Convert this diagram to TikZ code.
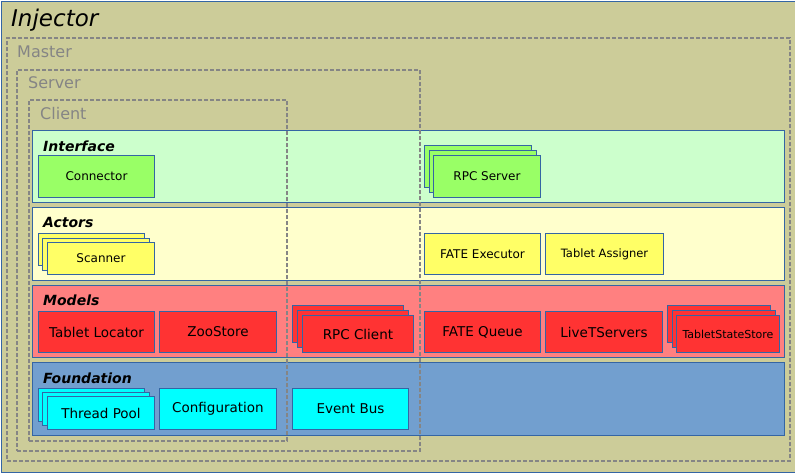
\documentclass[tikz,border=0pt]{standalone}
\usepackage{fontspec}
\setmainfont{DejaVu Sans}
\definecolor{bgolive}{HTML}{CCCC99}
\definecolor{bord}{HTML}{3465A4}
\definecolor{ifacebg}{HTML}{CCFFCC}
\definecolor{actbg}{HTML}{FFFFCC}
\definecolor{modbg}{HTML}{FF8080}
\definecolor{fndbg}{HTML}{729FCF}
\definecolor{cgreen}{HTML}{99FF66}
\definecolor{cyellow}{HTML}{FFFF66}
\definecolor{cred}{HTML}{FF3333}
\definecolor{ccyan}{HTML}{00FFFF}
\definecolor{dgray}{HTML}{858585}
\begin{document}
\begin{tikzpicture}[x=1pt,y=-1pt,
  layerbox/.style={draw=bord, line width=1pt, anchor=north west, inner sep=0pt, minimum width=752, minimum height=72},
  comp/.style={draw=bord, line width=1pt, anchor=north west, inner sep=0pt, text=black},
  dbox/.style={draw=dgray, line width=2.3pt, dash pattern=on 4pt off 2pt, anchor=north west, inner sep=0pt},
  dlabel/.style={anchor=west, text=dgray, inner sep=0pt, font=\fontsize{16}{18}\selectfont},
  ltitle/.style={anchor=west, inner sep=0pt, font=\fontsize{14}{16}\selectfont\bfseries\itshape},
  fs12/.style={font=\fontsize{12}{14}\selectfont},
  fs13/.style={font=\fontsize{13.5}{15}\selectfont},
]
\useasboundingbox (0,0) rectangle (795,472);
% Injector
\node[draw=bord, line width=1pt, fill=bgolive, anchor=north west, inner sep=0pt, minimum width=794, minimum height=471] (injector) at (0.5,0.5) {};
\node[anchor=west, inner sep=0pt, font=\fontsize{23}{26}\selectfont\itshape] (injlbl) at (11,20) {Injector};

% Layers
\node[layerbox, fill=ifacebg] (iface) at (32,130) {};
\node[layerbox, fill=actbg, minimum height=73] (actors) at (32,207) {};
\node[layerbox, fill=modbg] (models) at (32,285) {};
\node[layerbox, fill=fndbg, minimum height=73] (found) at (32,362) {};
\node[ltitle] (ifacelbl) at (43,146) {Interface};
\node[ltitle] (actlbl) at (43,222) {Actors};
\node[ltitle] (modlbl) at (43,300) {Models};
\node[ltitle] (fndlbl) at (43,378) {Foundation};

% Interface
\node[comp, fill=cgreen, fs12, minimum width=116, minimum height=42] (conn) at (38,155) {Connector};
\node[comp, fill=cgreen, minimum width=107, minimum height=42] (rpcs3) at (424,145) {};
\node[comp, fill=cgreen, minimum width=107, minimum height=42] (rpcs2) at (429,150) {};
\node[comp, fill=cgreen, fs12, minimum width=107, minimum height=42] (rpcs) at (433,155) {RPC Server};

% Actors
\node[comp, fill=cyellow, minimum width=106, minimum height=32] (scan3) at (38,233) {};
\node[comp, fill=cyellow, minimum width=107, minimum height=32] (scan2) at (42,237.5) {};
\node[comp, fill=cyellow, fs12, minimum width=107, minimum height=32] (scan) at (47,242) {Scanner};
\node[comp, fill=cyellow, fs12, minimum width=116, minimum height=41] (fexec) at (424,233) {FATE Executor};
\node[comp, fill=cyellow, font=\fontsize{11.5}{14}\selectfont, minimum width=118, minimum height=41] (tassign) at (545,233) {Tablet Assigner};

% Models
\node[comp, fill=cred, fs13, minimum width=116, minimum height=41] (tloc) at (38,311) {Tablet Locator};
\node[comp, fill=cred, fs13, minimum width=117, minimum height=41] (zoo) at (159,311) {ZooStore};
\node[comp, fill=cred, minimum width=111, minimum height=37] (rpcc3) at (292,305) {};
\node[comp, fill=cred, minimum width=111, minimum height=37] (rpcc2) at (297,310) {};
\node[comp, fill=cred, fs13, minimum width=111, minimum height=37] (rpcc) at (302,315) {RPC Client};
\node[comp, fill=cred, fs13, minimum width=116, minimum height=41] (fqueue) at (424,311) {FATE Queue};
\node[comp, fill=cred, fs13, minimum width=117, minimum height=41] (livets) at (545,311) {LiveTServers};
\node[comp, fill=cred, minimum width=103, minimum height=37] (tss3) at (667,305) {};
\node[comp, fill=cred, minimum width=103, minimum height=37] (tss2) at (672,310) {};
\node[comp, fill=cred, font=\fontsize{11}{13}\selectfont, minimum width=103, minimum height=37] (tss) at (676,315) {TabletStateStore};

% Foundation
\node[comp, fill=ccyan, minimum width=106, minimum height=33] (tp3) at (38,388) {};
\node[comp, fill=ccyan, minimum width=107, minimum height=33] (tp2) at (42,392) {};
\node[comp, fill=ccyan, fs13, minimum width=107, minimum height=33] (tp) at (47,396) {Thread Pool};
\node[comp, fill=ccyan, fs13, minimum width=117, minimum height=41] (config) at (159,388) {Configuration};
\node[comp, fill=ccyan, fs13, minimum width=116, minimum height=41] (ebus) at (292,388) {Event Bus};

% Dashed deployment boxes
\node[dbox, minimum width=783, minimum height=423] (master) at (6,37) {};
\node[dbox, minimum width=403, minimum height=381] (server) at (16,69) {};
\node[dbox, minimum width=258, minimum height=341] (client) at (28,99) {};
\node[dlabel] (masterlbl) at (17,52) {Master};
\node[dlabel] (serverlbl) at (28,83) {Server};
\node[dlabel] (clientlbl) at (40,114) {Client};
\end{tikzpicture}
\end{document}
